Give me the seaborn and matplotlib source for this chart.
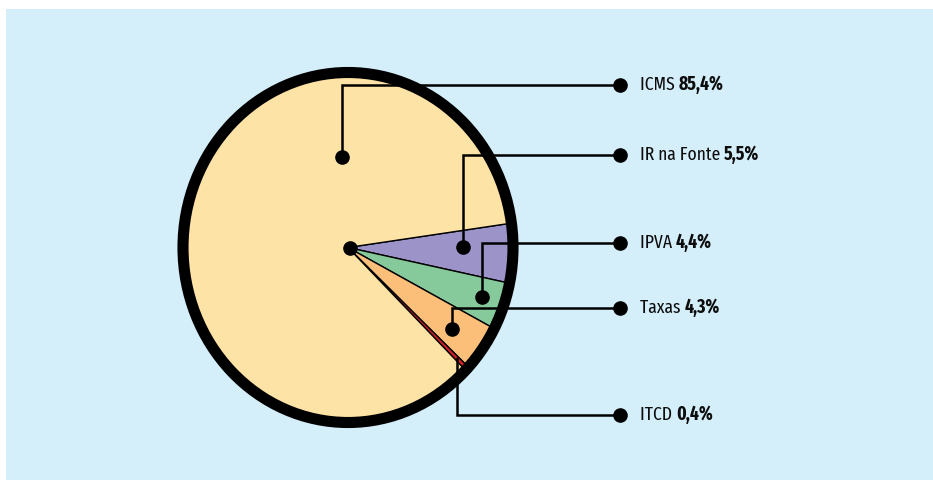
import os
import numpy as np
import matplotlib
matplotlib.use("Agg")
import matplotlib.pyplot as plt
from matplotlib.patches import Rectangle, Circle
from matplotlib import font_manager as fm
import seaborn as sns

sns.set_theme(style="white")
plt.rcParams['font.family'] = ['Liberation Sans', 'DejaVu Sans']

# data
taxes = ["IR na Fonte", "IPVA", "Taxas", "ITCD", "ICMS"]
shares = [5.5, 4.4, 4.3, 0.4, 85.4]
share_labels = ["5,5%", "4,4%", "4,3%", "0,4%", "85,4%"]
colors = ["#9C94C8", "#86CA9C", "#FBBF7A", "#D32027", "#FEE3A6"]

# layout (pixel coords, y down)
W, H = 933, 480
cx, cy, rx, ry = 348, 247.5, 165, 175
leader_start = [(463, 247), (482, 297), (452, 329), (457, 358), (342, 157)]
label_y = [155, 243, 308, 415, 85]
start_dot = [True, True, True, False, True]
line_end_x = 620
text_x = 640
cap_px = 15.2            # cap height of the labels in the reference
target_ratio = 72 / 14   # width of "IR na Fonte" / cap height

WEIGHT_WORDS = ("thin", "light", "medium", "semibold", "demibold", "extrabold",
                "ultrabold", "black", "heavy", "bold", "book")


def split_name(base):
    # (family/width stem, weight word) from the file name
    stem = os.path.splitext(base)[0]
    core = stem
    for w in ("ultracondensed", "extracondensed", "semicondensed", "condensed", "narrow"):
        core = core.replace(w, "")
    weight = "regular"
    for w in WEIGHT_WORDS:
        if w in core:
            weight = w
            break
    key = stem.replace("regular", "")
    if weight != "regular":
        key = key.replace(weight, "")
    return key.strip("-_ "), weight


def measure(path):
    font = fm.get_font(path)
    font.set_size(10, 72)
    font.set_text("I")
    _, cap = font.get_width_height()
    font.set_text("IR na Fonte")
    wid, _ = font.get_width_height()
    return cap / 64.0, wid / 64.0


regular, bold = {}, {}
for f in fm.fontManager.ttflist:
    base = os.path.basename(f.fname).lower()
    if not ("condensed" in base or "narrow" in base) or "[" in base:
        continue
    if "italic" in base or "oblique" in base or "mono" in base:
        continue
    if "serif" in base.replace("sans", ""):
        continue
    key, weight = split_name(base)
    if weight == "regular":
        regular.setdefault(key, f.fname)
    elif weight == "bold":
        bold.setdefault(key, f.fname)

# keep only faces that come with a matching bold, closest proportions wins
best = None
for key, path in regular.items():
    if key not in bold:
        continue
    try:
        cap, wid = measure(path)
    except Exception:
        continue
    if cap <= 0:
        continue
    score = abs(wid / cap - target_ratio)
    if best is None or score < best[0]:
        best = (score, path, bold[key], cap)

if best is not None:
    _, reg_path, bold_path, reg_cap = best
    size_pt = cap_px * 0.72 / (reg_cap / 10)
    reg_fp = fm.FontProperties(fname=reg_path, size=size_pt)
    bold_fp = fm.FontProperties(fname=bold_path, size=size_pt)
else:
    reg_fp = fm.FontProperties(family=['Liberation Sans', 'DejaVu Sans'], size=13.5)
    bold_fp = fm.FontProperties(family=['Liberation Sans', 'DejaVu Sans'], size=13.5,
                                weight="bold")

fig = plt.figure(figsize=(W / 100, H / 100), dpi=100)
fig.patch.set_facecolor("white")

bg = fig.add_axes([0, 0, 1, 1])
bg.set_xlim(0, W)
bg.set_ylim(H, 0)
bg.axis("off")
bg.add_patch(Rectangle((6, 9), W - 6, H - 9, facecolor="#D4EEFA", edgecolor="none"))

pie_ax = fig.add_axes([(cx - rx) / W, (H - cy - ry) / H, 2 * rx / W, 2 * ry / H])
pie_ax.pie(shares, colors=colors, startangle=8, counterclock=False, radius=1,
           wedgeprops=dict(edgecolor="black", linewidth=1.0))
pie_ax.set_aspect("auto")
pie_ax.set_xlim(-1, 1)
pie_ax.set_ylim(-1, 1)
pie_ax.axis("off")
pie_ax.add_patch(Circle((0, 0), 1, fill=False, edgecolor="black", linewidth=8, clip_on=False))

ov = fig.add_axes([0, 0, 1, 1])
ov.set_xlim(0, W)
ov.set_ylim(H, 0)
ov.axis("off")
ov.patch.set_alpha(0)

ov.plot([cx + 2], [cy], "o", color="black", markersize=9.5)

for name, lab, (sx, sy), ly, dot in zip(taxes, share_labels, leader_start, label_y, start_dot):
    ov.plot([sx, sx, line_end_x], [sy, ly, ly], color="black", linewidth=1.8,
            solid_joinstyle="miter")
    ov.plot([line_end_x], [ly], "o", color="black", markersize=9.5)
    if dot:
        ov.plot([sx], [sy], "o", color="black", markersize=9.5)
    t = ov.text(text_x, ly, name + " ", fontproperties=reg_fp, va="center",
                ha="left", color="#0d0d0d")
    ov.annotate(lab, xy=(1, 0), xycoords=t, va="bottom", ha="left",
                fontproperties=bold_fp, color="#0d0d0d")

fig.savefig("out.png", dpi=100, facecolor=fig.get_facecolor())
